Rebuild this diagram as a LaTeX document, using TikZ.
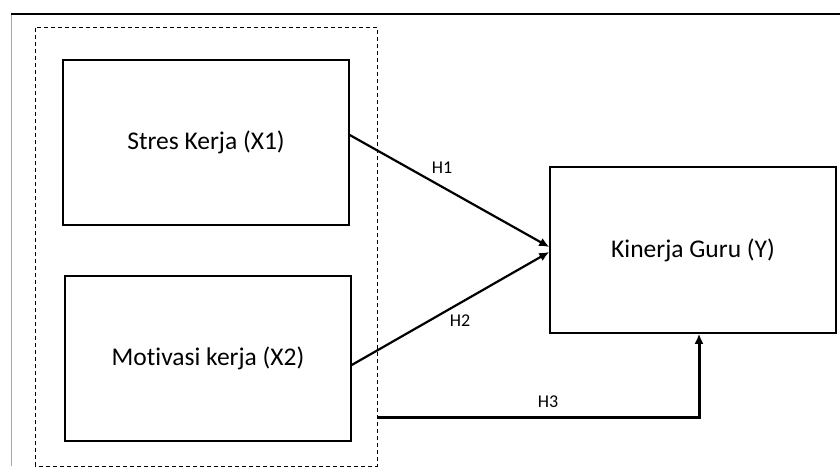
\documentclass[tikz,border=0pt]{standalone}
\usepackage{fontspec}
\setmainfont{Carlito}[Ligatures=NoCommon]
\usetikzlibrary{arrows.meta}
\begin{document}
\begin{tikzpicture}[x=1pt,y=-1pt,
  box/.style={draw, line width=1.5pt, minimum width=286pt, minimum height=165pt, inner sep=0pt, font=\fontsize{25.5}{30}\selectfont},
  arr/.style={line width=2.2pt, -{Latex[length=10pt,width=9pt]}},
  lab/.style={font=\fontsize{18}{20}\selectfont, inner sep=0pt}]
\useasboundingbox (0,0) rectangle (840,466);
\draw[line width=1pt, gray!70] (11,466) -- (11,14);
\draw[line width=1.5pt] (11,14) -- (840,14);
\draw[dashed, dash pattern=on 4pt off 3pt, line width=1pt] (35,466) rectangle (377,27);
\node[box] (x1) at (206,142.5) {Stres Kerja (X1)};
\node[box] (x2) at (208,358.5) {Motivasi kerja (X2)};
\node[box, minimum height=166pt] (y) at (693,250) {Kinerja Guru (Y)};
\coordinate (h3s) at (378,417);
\draw[arr] ([yshift=7.5pt]x1.east) -- ([yshift=3pt]y.west);
\draw[arr] ([yshift=-6.5pt]x2.east) -- ([yshift=-2pt]y.west);
\draw[line width=3pt, -{Latex[length=10pt,width=9pt]}] (h3s) -| ([xshift=6pt]y.south);
\node[lab] (h1) at (442,168) {H1};
\node[lab] (h2) at (460,321) {H2};
\node[lab] (h3) at (548,402) {H3};
\end{tikzpicture}
\end{document}
